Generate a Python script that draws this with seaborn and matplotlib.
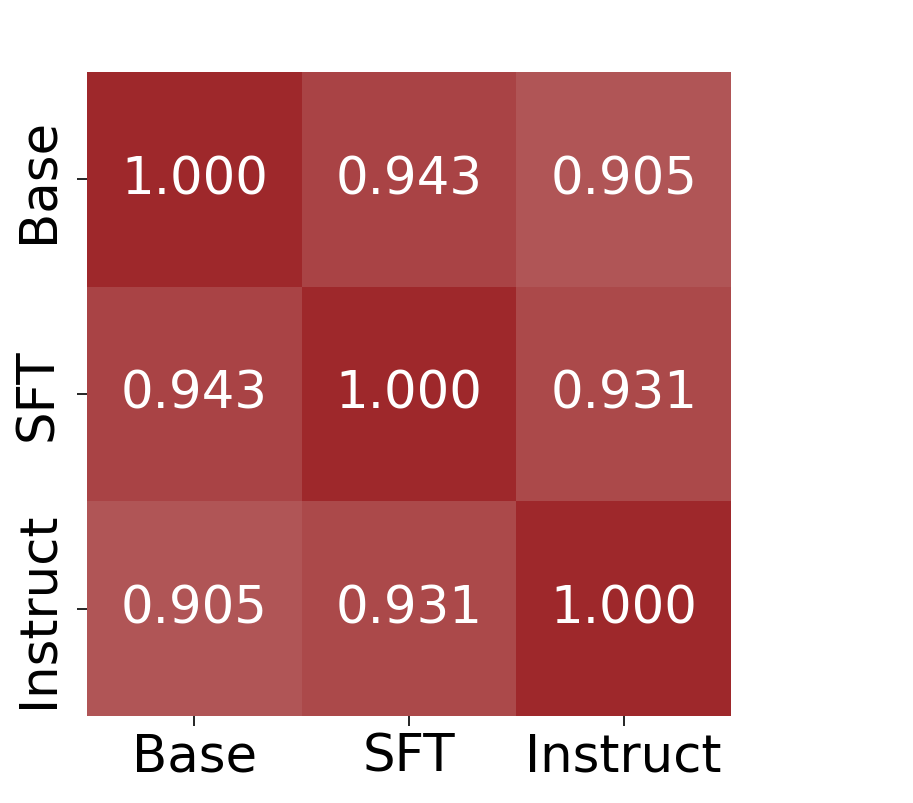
"""Similarity heatmap between model checkpoints."""

import numpy as np
import pandas as pd
import matplotlib
matplotlib.use("Agg")
import matplotlib.pyplot as plt
import seaborn as sns
from matplotlib.colors import LinearSegmentedColormap

models = ["Base", "SFT", "Instruct"]
row_base = [1.000, 0.943, 0.905]
row_sft = [0.943, 1.000, 0.931]
row_instruct = [0.905, 0.931, 1.000]

sim = pd.DataFrame([row_base, row_sft, row_instruct], index=models, columns=models)

cmap = LinearSegmentedColormap.from_list("reds", ["#B05556", "#9E282B"])

fig = plt.figure(figsize=(9.13, 8.04), dpi=100)
ax = fig.add_axes([87 / 913, 87 / 804, 644 / 913, 644 / 804])
sns.heatmap(
    sim,
    annot=True,
    fmt=".3f",
    cmap=cmap,
    vmin=0.905,
    vmax=1.0,
    cbar=False,
    square=True,
    linewidths=0,
    annot_kws={"fontsize": 37, "color": "white"},
    ax=ax,
)
ax.tick_params(axis="both", labelsize=37, length=7, width=1.2)
ax.tick_params(axis="y", pad=10)
ax.tick_params(axis="x", pad=4.5)
ax.set_xlabel("")
ax.set_ylabel("")
plt.setp(ax.get_yticklabels(), rotation=90, va="center")

fig.savefig("out.png", dpi=100)
plt.close(fig)
